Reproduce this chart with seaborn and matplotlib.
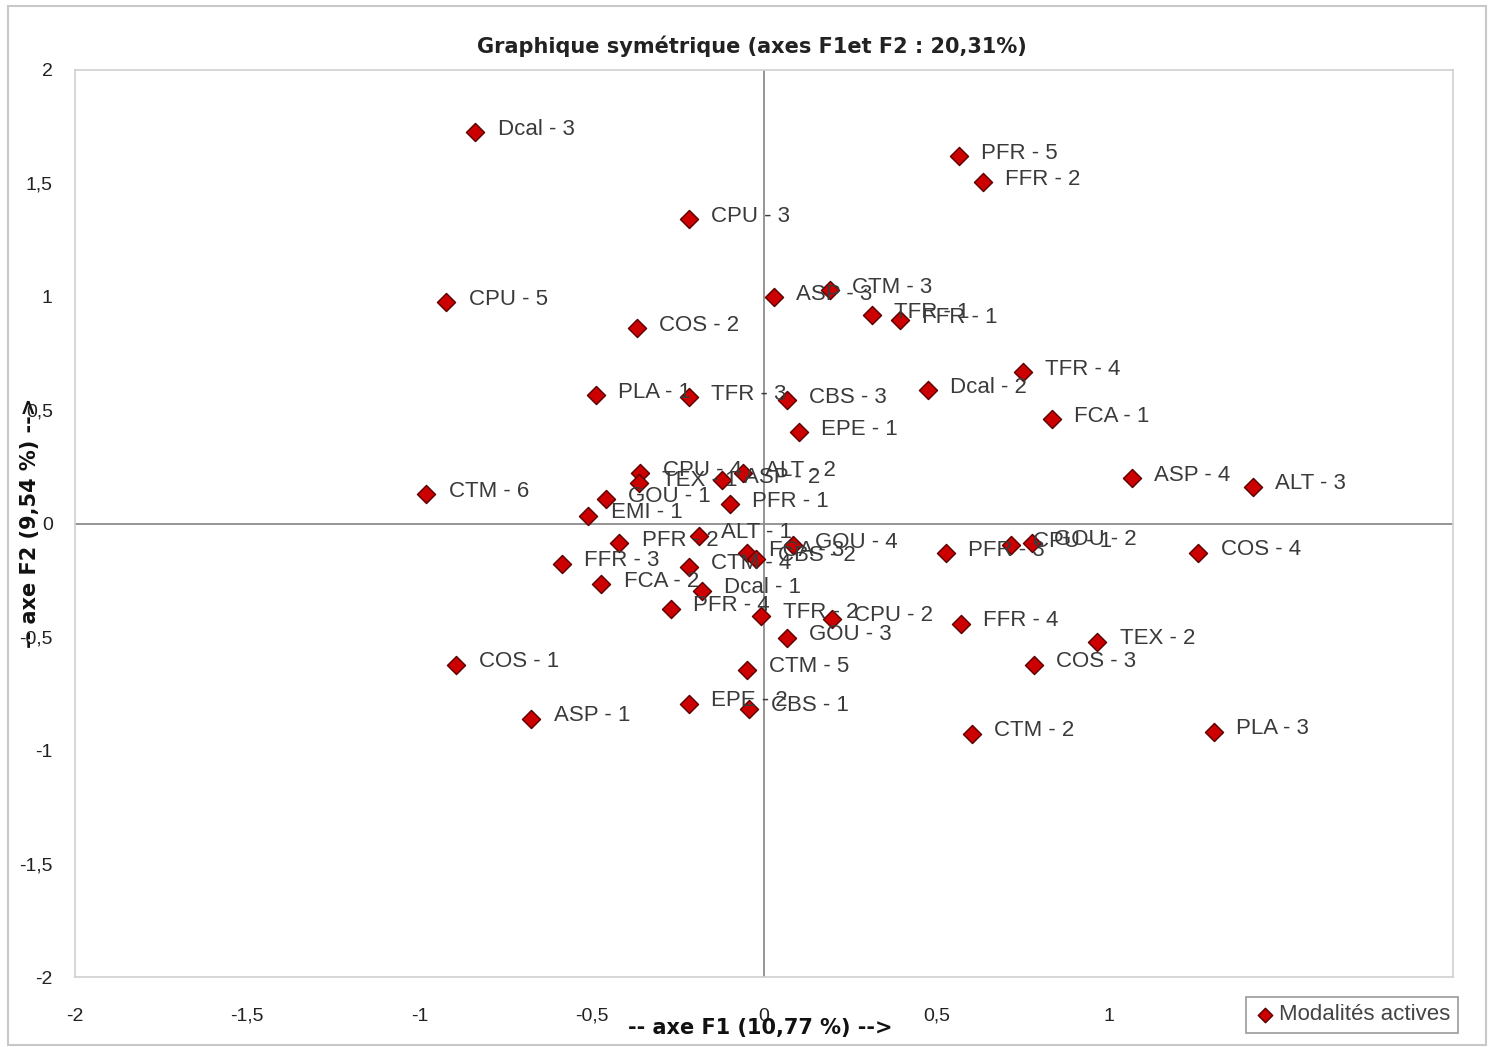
import matplotlib
matplotlib.use("Agg")
import matplotlib.pyplot as plt
import seaborn as sns
import pandas as pd
from matplotlib.patches import Rectangle

labels = ["Dcal - 3", "PFR - 5", "FFR - 2", "CPU - 3", "CPU - 5", "ASP - 3", "CTM - 3",
          "TFR - 1", "FFR - 1", "COS - 2", "TFR - 4", "Dcal - 2", "PLA - 1", "TFR - 3",
          "CBS - 3", "FCA - 1", "EPE - 1", "ASP - 4", "ALT - 3", "CTM - 6", "CPU - 4",
          "TEX - 1", "ASP - 2", "ALT - 2", "GOU - 1", "EMI - 1", "PFR - 1", "PFR - 2",
          "ALT - 1", "FFR - 3", "CTM - 4", "FCA - 3", "CBS - 2", "GOU - 4", "FCA - 2",
          "Dcal - 1", "PFR - 4", "TFR - 2", "CPU - 2", "GOU - 3", "CTM - 5", "EPE - 2",
          "CBS - 1", "PFR - 3", "CPU - 1", "GOU - 2", "COS - 4", "FFR - 4", "TEX - 2",
          "COS - 3", "CTM - 2", "PLA - 3", "COS - 1", "ASP - 1"]
f1 = [-0.838, 0.565, 0.635, -0.217, -0.922, 0.029, 0.191,
      0.313, 0.394, -0.368, 0.751, 0.475, -0.487, -0.217,
      0.067, 0.835, 0.101, 1.067, 1.420, -0.980, -0.359,
      -0.362, -0.122, -0.061, -0.458, -0.510, -0.099, -0.420,
      -0.188, -0.586, -0.217, -0.049, -0.023, 0.084, -0.472,
      -0.180, -0.270, -0.009, 0.197, 0.067, -0.049, -0.217,
      -0.043, 0.528, 0.716, 0.777, 1.261, 0.571, 0.968,
      0.783, 0.603, 1.307, -0.893, -0.675]
f2 = [1.726, 1.620, 1.506, 1.342, 0.976, 0.998, 1.029,
      0.918, 0.896, 0.861, 0.667, 0.587, 0.565, 0.556,
      0.543, 0.459, 0.402, 0.199, 0.163, 0.128, 0.221,
      0.177, 0.190, 0.221, 0.106, 0.035, 0.084, -0.088,
      -0.053, -0.177, -0.190, -0.132, -0.155, -0.097, -0.269,
      -0.296, -0.375, -0.406, -0.419, -0.503, -0.645, -0.795,
      -0.817, -0.132, -0.093, -0.084, -0.128, -0.442, -0.521,
      -0.623, -0.927, -0.918, -0.623, -0.861]

tick_vals = [-2, -1.5, -1, -0.5, 0, 0.5, 1, 1.5, 2]
tick_labels = ["-2", "-1,5", "-1", "-0,5", "0", "0,5", "1", "1,5", "2"]

df = pd.DataFrame({"label": labels, "F1": f1, "F2": f2})

sns.set_theme(style="white")
plt.rcParams["font.family"] = ["Liberation Sans", "DejaVu Sans"]

fig = plt.figure(figsize=(14.89, 10.47), dpi=100)
ax = fig.add_axes([75 / 1489, 1 - 977 / 1047, 1378 / 1489, 907 / 1047])

sns.scatterplot(data=df, x="F1", y="F2", marker="D", s=85, color="#cc0000",
                edgecolor="#5a0000", linewidth=1.0, label="Modalités actives", ax=ax, zorder=3)

ax.axhline(0, color="#8c8c8c", lw=1.3, zorder=1)
ax.axvline(0, color="#8c8c8c", lw=1.3, zorder=1)

for _, r in df.iterrows():
    ax.annotate(r["label"], (r["F1"], r["F2"]), xytext=(16, 2), textcoords="offset points",
                fontsize=16, color="#3a3a3a", va="center", ha="left", zorder=4)

ax.set_xlim(-2, 2)
ax.set_ylim(-2, 2)
ax.set_xticks(tick_vals)
ax.set_xticklabels(tick_labels)
ax.set_yticks(tick_vals)
ax.set_yticklabels(tick_labels)
ax.tick_params(axis="both", labelsize=14, colors="#222222", length=0)
ax.tick_params(axis="x", pad=22)
ax.tick_params(axis="y", pad=16)
for s in ax.spines.values():
    s.set_color("#d0d0d0")
    s.set_linewidth(1.2)

ax.set_xlabel("")
ax.set_ylabel("")
fig.text(760 / 1489, 1 - 1028 / 1047, "-- axe F1 (10,77 %) -->", ha="center", va="center",
         fontsize=15, fontweight="bold", color="#111111", family="DejaVu Sans")
fig.text(30 / 1489, 1 - 523 / 1047, "-- axe F2 (9,54 %) -->", ha="center", va="center",
         rotation=90, fontsize=15, fontweight="bold", color="#111111", family="DejaVu Sans")
fig.text(752 / 1489, 1 - 46 / 1047, "Graphique symétrique (axes F1et F2 : 20,31%)",
         ha="center", va="center", fontsize=15, fontweight="bold", color="#222222",
         family="DejaVu Sans")

leg = ax.legend(loc="center", bbox_to_anchor=(1352 / 1489, 1 - 1015 / 1047),
                bbox_transform=fig.transFigure, fontsize=16, frameon=True, fancybox=False,
                framealpha=1.0, handletextpad=0.1, borderpad=0.35, markerscale=0.8,
                handlelength=1.0, borderaxespad=0)
leg.get_frame().set_edgecolor("#9a9a9a")
leg.get_frame().set_linewidth(1.2)
leg.set_zorder(10)
for t in leg.get_texts():
    t.set_color("#444444")

fig.patches.append(Rectangle((8 / 1489, 0.002), 1478 / 1489, 1 - 8 / 1047, transform=fig.transFigure,
                             fill=False, edgecolor="#c8c8c8", lw=1.5))

fig.savefig("out.png", dpi=100)
